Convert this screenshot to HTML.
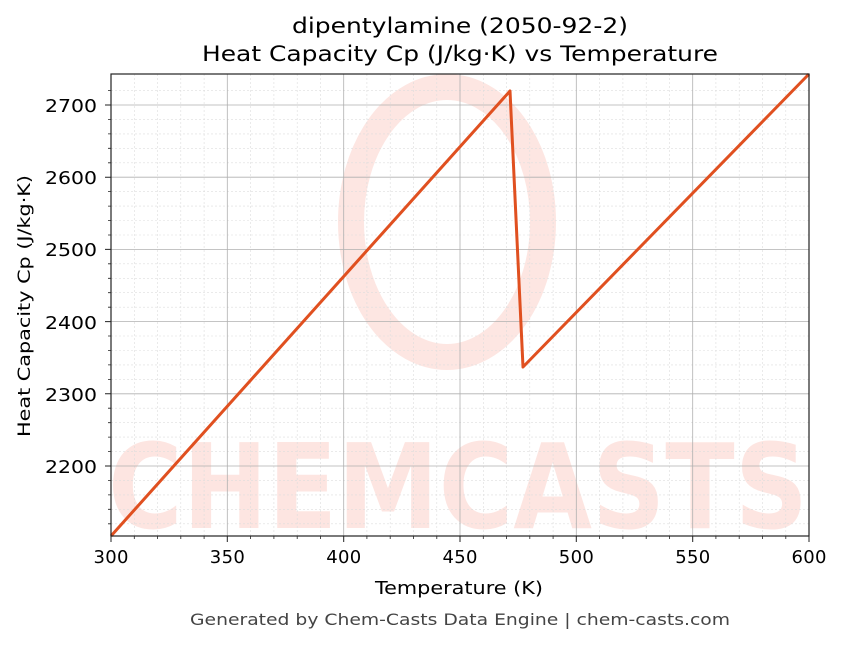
<!DOCTYPE html><html><head><style>body{margin:0;background:#fff}svg text{font-family:"DejaVu Sans","Liberation Sans",sans-serif}</style></head><body>
<svg width="843" height="644" xmlns="http://www.w3.org/2000/svg">
<rect width="843" height="644" fill="#fff"/>
<g opacity="0.13">
<ellipse cx="447" cy="222" rx="96" ry="135" fill="none" stroke="#f04020" stroke-width="26"/>
<text x="458" y="528" font-size="118" font-weight="bold" fill="#f04020" text-anchor="middle" textLength="700" lengthAdjust="spacingAndGlyphs" font-family="Liberation Serif">CHEMCASTS</text>
</g>
<g stroke="#ddd" stroke-width="0.6" stroke-dasharray="2,2">
<path d="M134.3 74V536M157.5 74V536M180.8 74V536M204.1 74V536M250.6 74V536M273.9 74V536M297.2 74V536M320.4 74V536M366.9 74V536M390.2 74V536M413.5 74V536M436.8 74V536M483.3 74V536M506.6 74V536M529.8 74V536M553.1 74V536M599.6 74V536M622.9 74V536M646.2 74V536M669.4 74V536M715.9 74V536M739.2 74V536M762.5 74V536M785.8 74V536"/>
<path d="M111 90.6H809M111 119.4H809M111 133.9H809M111 148.3H809M111 162.8H809M111 191.6H809M111 206.1H809M111 220.5H809M111 235H809M111 263.8H809M111 278.3H809M111 292.7H809M111 307.2H809M111 336H809M111 350.5H809M111 364.9H809M111 379.4H809M111 408.2H809M111 422.7H809M111 437.1H809M111 451.6H809M111 480.4H809M111 494.9H809M111 509.3H809M111 523.8H809"/>
</g>
<g stroke="#b0b0b0" stroke-width="0.8">
<path d="M227.3 74V536M343.7 74V536M460 74V536M576.3 74V536M692.7 74V536"/>
<path d="M111 105H809M111 177.2H809M111 249.4H809M111 321.6H809M111 393.8H809M111 466H809"/>
</g>
<polyline points="111,536 510,91 523,367 809,74" fill="none" stroke="#e05020" stroke-width="3" stroke-linejoin="round"/>
<rect x="111" y="74" width="698" height="462" fill="none" stroke="#222" stroke-width="1.2"/>
<g stroke="#222" stroke-width="1">
<path d="M111 536v6M227.3 536v6M343.7 536v6M460 536v6M576.3 536v6M692.7 536v6M809 536v6"/>
<path d="M111 105h-6M111 177.2h-6M111 249.4h-6M111 321.6h-6M111 393.8h-6M111 466h-6"/>
<path stroke-width="0.8" d="M134.3 536v3M157.5 536v3M180.8 536v3M204.1 536v3M250.6 536v3M273.9 536v3M297.2 536v3M320.4 536v3M366.9 536v3M390.2 536v3M413.5 536v3M436.8 536v3M483.3 536v3M506.6 536v3M529.8 536v3M553.1 536v3M599.6 536v3M622.9 536v3M646.2 536v3M669.4 536v3M715.9 536v3M739.2 536v3M762.5 536v3M785.8 536v3"/>
<path stroke-width="0.8" d="M111 90.6h-3M111 119.4h-3M111 133.9h-3M111 148.3h-3M111 162.8h-3M111 191.6h-3M111 206.1h-3M111 220.5h-3M111 235h-3M111 263.8h-3M111 278.3h-3M111 292.7h-3M111 307.2h-3M111 336h-3M111 350.5h-3M111 364.9h-3M111 379.4h-3M111 408.2h-3M111 422.7h-3M111 437.1h-3M111 451.6h-3M111 480.4h-3M111 494.9h-3M111 509.3h-3M111 523.8h-3"/>
</g>
<g font-size="18" fill="#000" text-anchor="middle" lengthAdjust="spacingAndGlyphs">
<text x="111" y="563" textLength="35">300</text><text x="227.3" y="563" textLength="35">350</text><text x="343.7" y="563" textLength="35">400</text><text x="460" y="563" textLength="35">450</text><text x="576.3" y="563" textLength="35">500</text><text x="692.7" y="563" textLength="35">550</text><text x="809" y="563" textLength="35">600</text>
</g>
<g font-size="18" fill="#000">
<text x="45" y="112" textLength="52" lengthAdjust="spacingAndGlyphs">2700</text><text x="45" y="184" textLength="52" lengthAdjust="spacingAndGlyphs">2600</text><text x="45" y="256" textLength="52" lengthAdjust="spacingAndGlyphs">2500</text><text x="45" y="329" textLength="52" lengthAdjust="spacingAndGlyphs">2400</text><text x="45" y="401" textLength="52" lengthAdjust="spacingAndGlyphs">2300</text><text x="45" y="473" textLength="52" lengthAdjust="spacingAndGlyphs">2200</text>
</g>
<text x="375" y="594" font-size="18" textLength="168" lengthAdjust="spacingAndGlyphs">Temperature (K)</text>
<text transform="translate(30,437) rotate(-90)" font-size="17" textLength="262" lengthAdjust="spacingAndGlyphs">Heat Capacity Cp (J/kg·K)</text>
<text x="292" y="33" font-size="21" textLength="336" lengthAdjust="spacingAndGlyphs">dipentylamine (2050-92-2)</text>
<text x="202" y="61" font-size="21" textLength="516" lengthAdjust="spacingAndGlyphs">Heat Capacity Cp (J/kg·K) vs Temperature</text>
<text x="190" y="625" font-size="16" fill="#444" textLength="540" lengthAdjust="spacingAndGlyphs">Generated by Chem-Casts Data Engine | chem-casts.com</text>
</svg></body></html>
